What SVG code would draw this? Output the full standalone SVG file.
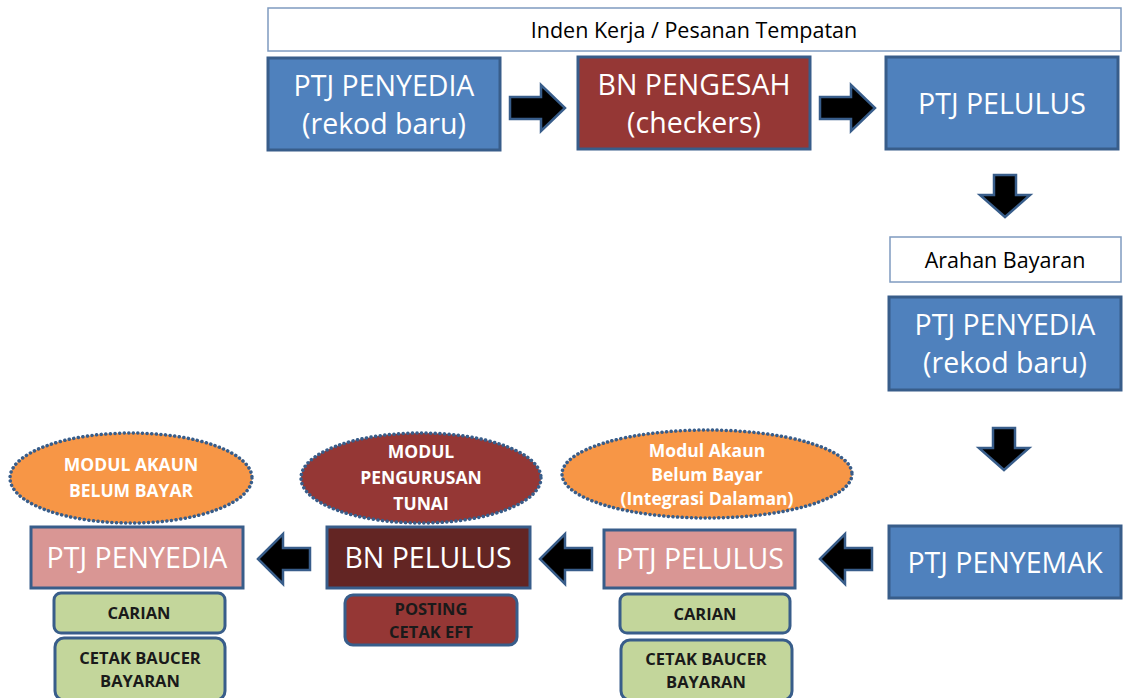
<svg xmlns="http://www.w3.org/2000/svg" width="1123" height="698" viewBox="0 0 1123 698">
<style>
.lbl{fill:#fff;stroke:#7F9BC0;stroke-width:1.5}
.blue{fill:#4F81BD;stroke:#385D8A;stroke-width:3}
.red{fill:#953735;stroke:#385D8A;stroke-width:3}
.dred{fill:#632523;stroke:#385D8A;stroke-width:3}
.pink{fill:#D99694;stroke:#385D8A;stroke-width:3}
.green{fill:#C3D69B;stroke:#385D8A;stroke-width:3}
.ell{stroke:#385D8A;stroke-width:3.5;stroke-dasharray:0.1 4.5;stroke-linecap:round}
.orange{fill:#F79646}
.arrow{fill:#000;stroke:#385D8A;stroke-width:2.5;stroke-linejoin:miter}
.big{font-family:"Open Sans","Liberation Sans",sans-serif;font-size:28.5px;fill:#fff;text-anchor:middle}
.cap{font-family:"Open Sans","Liberation Sans",sans-serif;font-size:21.5px;fill:#000;text-anchor:middle}
.sm{font-family:"Open Sans","Liberation Sans",sans-serif;font-size:16.5px;font-weight:bold;fill:#1a1a1a;text-anchor:middle}
.ew{font-family:"Open Sans","Liberation Sans",sans-serif;font-size:17.5px;font-weight:bold;fill:#fff;text-anchor:middle}
</style>
<defs>
<path id="ar" d="M0,-11 H31 V-23 L55,0 L31,23 V11 H0 Z"/>
<path id="al" d="M0,0 L25,-25 V-11 H52 V11 H25 V25 Z"/>
<path id="ad" d="M-11,0 V20 H-25 L0,42 L25,20 H11 V0 Z"/>
</defs>
<rect width="1123" height="698" fill="#fff"/>

<g id="lbl-inden">
<rect class="lbl" x="268" y="8" width="853" height="43"/>
<text class="cap" x="694" y="38">Inden Kerja / Pesanan Tempatan</text>
</g>
<g id="ptj-penyedia-1">
<rect class="blue" x="268" y="58" width="232" height="92"/>
<text class="big" x="384" y="96">PTJ PENYEDIA</text>
<text class="big" x="384" y="134">(rekod baru)</text>
</g>
<g id="bn-pengesah">
<rect class="red" x="578" y="57" width="232" height="92"/>
<text class="big" x="694" y="95">BN PENGESAH</text>
<text class="big" x="694" y="133">(checkers)</text>
</g>
<g id="ptj-pelulus-1">
<rect class="blue" x="886" y="57" width="232" height="92"/>
<text class="big" x="1002" y="114">PTJ PELULUS</text>
</g>
<g id="lbl-arahan">
<rect class="lbl" x="890" y="237" width="231" height="45"/>
<text class="cap" x="1005" y="268">Arahan Bayaran</text>
</g>
<g id="ptj-penyedia-2">
<rect class="blue" x="889" y="297" width="232" height="93"/>
<text class="big" x="1005" y="335">PTJ PENYEDIA</text>
<text class="big" x="1005" y="373">(rekod baru)</text>
</g>
<g id="ptj-penyemak">
<rect class="blue" x="889" y="526" width="232" height="72"/>
<text class="big" x="1005" y="573">PTJ PENYEMAK</text>
</g>
<g id="ptj-pelulus-2">
<rect class="pink" x="604" y="530" width="191" height="58"/>
<text class="big" x="700" y="569">PTJ PELULUS</text>
</g>
<g id="mod-abb-int">
<ellipse class="orange ell" cx="707" cy="474" rx="145" ry="44"/>
<text class="ew" x="707" y="457">Modul Akaun</text>
<text class="ew" x="707" y="481">Belum Bayar</text>
<text class="ew" x="707" y="505">(Integrasi Dalaman)</text>
</g>
<g id="carian-2">
<rect class="green" x="620" y="594" width="170" height="39" rx="7"/>
<text class="sm" x="705" y="620">CARIAN</text>
</g>
<g id="cetak-2">
<rect class="green" x="621" y="640" width="171" height="60" rx="9"/>
<text class="sm" x="706" y="665">CETAK BAUCER</text>
<text class="sm" x="706" y="688">BAYARAN</text>
</g>
<g id="bn-pelulus">
<rect class="dred" x="327" y="527" width="203" height="61"/>
<text class="big" x="428" y="568">BN PELULUS</text>
</g>
<g id="mod-tunai">
<ellipse class="red ell" cx="421" cy="478" rx="120" ry="45"/>
<text class="ew" x="421" y="458">MODUL</text>
<text class="ew" x="421" y="484">PENGURUSAN</text>
<text class="ew" x="421" y="510">TUNAI</text>
</g>
<g id="posting">
<rect class="red" x="345" y="595" width="172" height="50" rx="8"/>
<text class="sm" x="431" y="615">POSTING</text>
<text class="sm" x="431" y="638">CETAK EFT</text>
</g>
<g id="ptj-penyedia-3">
<rect class="pink" x="31" y="527" width="212" height="61"/>
<text class="big" x="137" y="568">PTJ PENYEDIA</text>
</g>
<g id="mod-abb">
<ellipse class="orange ell" cx="131" cy="478" rx="121" ry="45"/>
<text class="ew" x="131" y="471">MODUL AKAUN</text>
<text class="ew" x="131" y="497">BELUM BAYAR</text>
</g>
<g id="carian-1">
<rect class="green" x="54" y="593" width="171" height="40" rx="7"/>
<text class="sm" x="139" y="619">CARIAN</text>
</g>
<g id="cetak-1">
<rect class="green" x="55" y="638" width="170" height="62" rx="9"/>
<text class="sm" x="140" y="664">CETAK BAUCER</text>
<text class="sm" x="140" y="687">BAYARAN</text>
</g>

<g id="connectors">
<use href="#ar" class="arrow" x="510" y="108"/>
<use href="#ar" class="arrow" x="820" y="108"/>
<use href="#ad" class="arrow" x="1005" y="175"/>
<use href="#ad" class="arrow" x="1004" y="428"/>
<use href="#al" class="arrow" x="820" y="559"/>
<use href="#al" class="arrow" x="540" y="559"/>
<use href="#al" class="arrow" x="258" y="559"/>
</g>
</svg>
